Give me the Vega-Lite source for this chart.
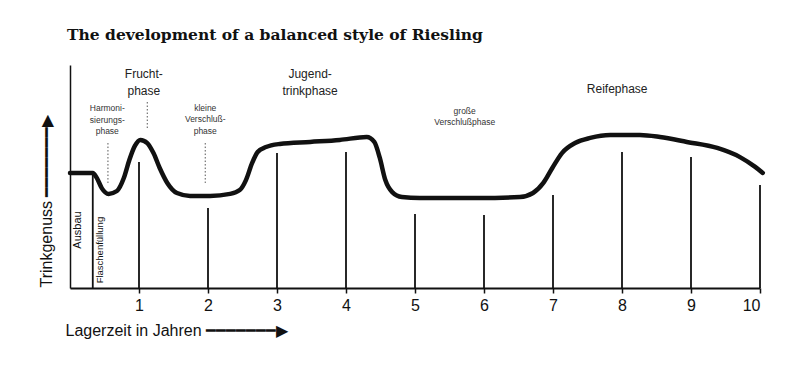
{
  "$schema": "https://vega.github.io/schema/vega-lite/v6.json",
  "width": 690,
  "height": 223,
  "autosize": "none",
  "padding": {"left": 70, "top": 65, "right": 40, "bottom": 82},
  "background": "white",
  "title": {
    "text": "The development of a balanced style of Riesling",
    "anchor": "start",
    "frame": "group",
    "dx": -3,
    "offset": 10,
    "baseline": "alphabetic",
    "font": "DejaVu Serif",
    "fontSize": 15.5,
    "fontWeight": "bold",
    "color": "#111"
  },
  "config": {
    "view": {"stroke": null},
    "axis": {"grid": false, "domainColor": "#111", "tickColor": "#111", "labelColor": "#111", "titleColor": "#111", "labelFont": "Liberation Sans", "titleFont": "Liberation Sans", "titleFontWeight": "normal"}
  },
  "datasets": {
    "curve": [
      {"yr": 0.0, "v": 51.6}, {"yr": 0.33, "v": 51.6}, {"yr": 0.39, "v": 49.3}, {"yr": 0.46, "v": 44.8},
      {"yr": 0.56, "v": 42.2}, {"yr": 0.68, "v": 43.5}, {"yr": 0.78, "v": 49.3}, {"yr": 0.86, "v": 57.4},
      {"yr": 0.94, "v": 63.7}, {"yr": 1.02, "v": 66.4}, {"yr": 1.12, "v": 65.0}, {"yr": 1.21, "v": 60.5},
      {"yr": 1.3, "v": 53.8}, {"yr": 1.41, "v": 47.1}, {"yr": 1.55, "v": 42.6}, {"yr": 1.74, "v": 41.3},
      {"yr": 2.03, "v": 41.3}, {"yr": 2.32, "v": 42.2}, {"yr": 2.46, "v": 43.9}, {"yr": 2.55, "v": 48.4},
      {"yr": 2.64, "v": 56.1}, {"yr": 2.72, "v": 61.0}, {"yr": 2.84, "v": 63.2}, {"yr": 3.04, "v": 64.6},
      {"yr": 3.48, "v": 65.5}, {"yr": 3.91, "v": 66.4}, {"yr": 4.3, "v": 67.7}, {"yr": 4.41, "v": 65.5},
      {"yr": 4.49, "v": 58.3}, {"yr": 4.57, "v": 48.4}, {"yr": 4.67, "v": 43.0}, {"yr": 4.81, "v": 40.8},
      {"yr": 5.07, "v": 40.4}, {"yr": 5.94, "v": 40.4}, {"yr": 6.52, "v": 40.8}, {"yr": 6.71, "v": 42.6},
      {"yr": 6.86, "v": 47.1}, {"yr": 6.99, "v": 53.8}, {"yr": 7.13, "v": 60.5}, {"yr": 7.32, "v": 65.0},
      {"yr": 7.54, "v": 67.3}, {"yr": 7.83, "v": 68.6}, {"yr": 8.26, "v": 68.6}, {"yr": 8.55, "v": 67.7},
      {"yr": 8.94, "v": 65.5}, {"yr": 9.38, "v": 62.8}, {"yr": 9.71, "v": 58.7}, {"yr": 9.93, "v": 54.3},
      {"yr": 10.04, "v": 51.6}
    ],
    "marks": [
      {"yr": 0.33, "v": 51.6}, {"yr": 1, "v": 56.5}, {"yr": 2, "v": 35.9}, {"yr": 3, "v": 60.5},
      {"yr": 4, "v": 61.0}, {"yr": 5, "v": 33.2}, {"yr": 6, "v": 32.7}, {"yr": 7, "v": 41.7},
      {"yr": 8, "v": 61.0}, {"yr": 9, "v": 58.7}, {"yr": 10, "v": 46.2}
    ],
    "pointers": [
      {"yr": 0.55, "v": 65.0, "v2": 47.1},
      {"yr": 1.12, "v": 83.4, "v2": 70.9},
      {"yr": 1.96, "v": 65.0, "v2": 47.1}
    ],
    "bigLabels": [
      {"yr": 1.07, "v": 98.2, "label": "Frucht-\nphase"},
      {"yr": 3.48, "v": 98.2, "label": "Jugend-\ntrinkphase"},
      {"yr": 7.93, "v": 91.5, "label": "Reifephase"}
    ],
    "smallLabels": [
      {"yr": 0.54, "v": 82.3, "label": "Harmoni-\nsierungs-\nphase"},
      {"yr": 1.96, "v": 82.7, "label": "kleine\nVerschluß-\nphase"},
      {"yr": 5.72, "v": 81.2, "label": "große\nVerschlußphase"}
    ],
    "ausbau": [{"yr": 0.12, "v": 26, "label": "Ausbau"}],
    "flasche": [{"yr": 0.43, "v": 17, "label": "Flaschenfüllung"}]
  },
  "layer": [
    {
      "data": {"name": "marks"},
      "mark": {"type": "rule", "color": "#111", "strokeWidth": 1.8},
      "encoding": {
        "x": {"field": "yr", "type": "quantitative", "scale": {"domain": [0, 10], "nice": false, "zero": false},
          "title": "Lagerzeit in Jahren ━━━━━━━▶",
          "axis": {"values": [1, 2, 3, 4, 5, 6, 7, 8, 9, 10], "format": "d", "domainWidth": 2, "tickWidth": 1.5, "tickSize": 5, "labelFontSize": 16, "labelPadding": 4,
            "titleFontSize": 16, "titleAnchor": "start", "titleAlign": "left", "titleX": -5, "titleY": 47, "titleBaseline": "alphabetic"}},
        "y": {"field": "v", "type": "quantitative", "scale": {"domain": [0, 100], "nice": false},
          "title": "Trinkgenuss ━━━━━━━▶",
          "axis": {"ticks": false, "labels": false, "domainWidth": 1.5, "titleFontSize": 16, "titleAngle": 270, "titleAlign": "left", "titleX": -19, "titleY": 222, "titleBaseline": "alphabetic"}},
        "y2": {"datum": 0}
      }
    },
    {
      "data": {"name": "pointers"},
      "mark": {"type": "rule", "color": "#555", "strokeWidth": 1, "strokeDash": [1.5, 2]},
      "encoding": {
        "x": {"field": "yr", "type": "quantitative"},
        "y": {"field": "v", "type": "quantitative"},
        "y2": {"field": "v2"}
      }
    },
    {
      "data": {"name": "curve"},
      "mark": {"type": "line", "color": "#111", "strokeWidth": 4.5, "interpolate": "monotone", "strokeCap": "round", "strokeJoin": "round", "clip": false},
      "encoding": {
        "x": {"field": "yr", "type": "quantitative"},
        "y": {"field": "v", "type": "quantitative"}
      }
    },
    {
      "data": {"name": "bigLabels"},
      "mark": {"type": "text", "font": "Liberation Sans", "fontSize": 12, "lineHeight": 17, "baseline": "top", "align": "center", "lineBreak": "\n", "color": "#222"},
      "encoding": {
        "x": {"field": "yr", "type": "quantitative"},
        "y": {"field": "v", "type": "quantitative"},
        "text": {"field": "label"}
      }
    },
    {
      "data": {"name": "smallLabels"},
      "mark": {"type": "text", "font": "Liberation Sans", "fontSize": 8.5, "lineHeight": 11.5, "baseline": "top", "align": "center", "lineBreak": "\n", "color": "#333"},
      "encoding": {
        "x": {"field": "yr", "type": "quantitative"},
        "y": {"field": "v", "type": "quantitative"},
        "text": {"field": "label"}
      }
    },
    {
      "data": {"name": "ausbau"},
      "mark": {"type": "text", "font": "Liberation Sans", "fontSize": 11, "angle": 270, "baseline": "middle", "align": "center", "color": "#111"},
      "encoding": {
        "x": {"field": "yr", "type": "quantitative"},
        "y": {"field": "v", "type": "quantitative"},
        "text": {"field": "label"}
      }
    },
    {
      "data": {"name": "flasche"},
      "mark": {"type": "text", "font": "Liberation Sans", "fontSize": 9.5, "angle": 270, "baseline": "middle", "align": "center", "color": "#111"},
      "encoding": {
        "x": {"field": "yr", "type": "quantitative"},
        "y": {"field": "v", "type": "quantitative"},
        "text": {"field": "label"}
      }
    }
  ]
}
